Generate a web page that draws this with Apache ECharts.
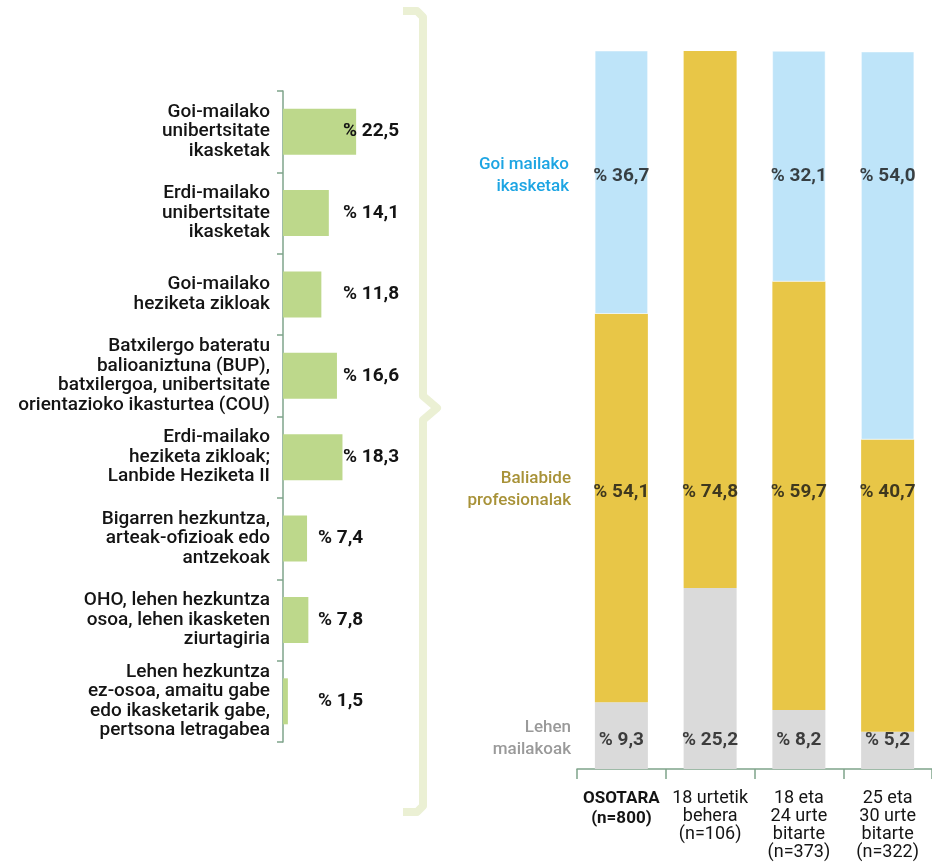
<!DOCTYPE html>
<html>
<head>
<meta charset="utf-8">
<script src="https://cdn.jsdelivr.net/npm/echarts@6/dist/echarts.min.js"></script>
<style>
  html, body { margin: 0; padding: 0; background: #fff; }
  #main { width: 932px; height: 863px; }
</style>
</head>
<body>
<div id="main"></div>
<script>
// ikasketa mailak (ezkerreko grafikoa)
var studyLevels = [
    'Goi-mailako\nunibertsitate\nikasketak',
    'Erdi-mailako\nunibertsitate\nikasketak',
    'Goi-mailako\nheziketa zikloak',
    'Batxilergo bateratu\nbalioaniztuna (BUP),\nbatxilergoa, unibertsitate\norientazioko ikasturtea (COU)',
    'Erdi-mailako\nheziketa zikloak;\nLanbide Heziketa II',
    'Bigarren hezkuntza,\narteak-ofizioak edo\nantzekoak',
    'OHO, lehen hezkuntza\nosoa, lehen ikasketen\nziurtagiria',
    'Lehen hezkuntza\nez-osoa, amaitu gabe\nedo ikasketarik gabe,\npertsona letragabea'
];
var studyValues = [22.5, 14.1, 11.8, 16.6, 18.3, 7.4, 7.8, 1.5];

// adin taldeak (eskuineko grafikoa)
var ageGroups = [
    'OSOTARA\n(n=800)',
    '18 urtetik\nbehera\n(n=106)',
    '18 eta\n24 urte\nbitarte\n(n=373)',
    '25 eta\n30 urte\nbitarte\n(n=322)'
];
var lehenValues = [9.3, 25.2, 8.2, 5.2];
var baliabideValues = [54.1, 74.8, 59.7, 40.7];
var goiValues = [36.7, null, 32.1, 54.0];
var groupNames = ['Lehen\nmailakoak', 'Baliabide\nprofesionalak', 'Goi mailako\nikasketak'];

var FONT = 'Roboto';
var axisGreen = '#7fa48b';

function pct(v) {
    return '% ' + v.toFixed(1).replace('.', ',');
}

// etiketak errenkada finkoetan (balio ardatzaren unitateetan)
function labelRow(values, level) {
    var out = [];
    values.forEach(function (v, i) {
        if (v != null) out.push([i, level, v]);
    });
    return {
        type: 'scatter',
        xAxisIndex: 1,
        yAxisIndex: 1,
        symbolSize: 0,
        silent: true,
        data: out,
        label: {
            show: true,
            position: 'inside',
            formatter: function (p) { return pct(p.value[2]); },
            color: '#141414',
            fontFamily: FONT,
            fontWeight: 'bold',
            fontSize: 19
        },
        z: 5
    };
}

var chart = echarts.init(document.getElementById('main'));

var option = {
    backgroundColor: '#fff',
    animation: false,
    grid: [
        {left: 283, top: 91, width: 130, height: 651},
        {left: 577, right: 0, top: 51, bottom: 94}
    ],
    xAxis: [{
        gridIndex: 0,
        type: 'value',
        min: 0,
        max: 40,
        show: false
    }, {
        gridIndex: 1,
        type: 'category',
        data: ageGroups,
        axisLine: {lineStyle: {color: axisGreen, width: 1.5}},
        axisTick: {show: true, interval: 0, length: 10, lineStyle: {color: axisGreen, width: 1.5}},
        axisLabel: {
            interval: 0,
            margin: 20,
            color: '#141414',
            fontFamily: FONT,
            fontSize: 18,
            lineHeight: 18,
            formatter: function (value, idx) {
                if (idx === 0) {
                    return value.split('\n').map(function (s) { return '{b|' + s + '}'; }).join('\n');
                }
                return value;
            },
            rich: {
                b: {fontWeight: 'bold', fontFamily: FONT, fontSize: 17, lineHeight: 20, color: '#141414'}
            }
        }
    }],
    yAxis: [{
        gridIndex: 0,
        type: 'category',
        inverse: true,
        data: studyLevels,
        axisLine: {lineStyle: {color: axisGreen, width: 1.5}},
        axisTick: {show: true, length: 6, lineStyle: {color: axisGreen, width: 1.5}},
        axisLabel: {
            margin: 13,
            color: '#141414',
            fontFamily: FONT,
            fontWeight: 500,
            fontSize: 19,
            lineHeight: 19.5
        }
    }, {
        gridIndex: 1,
        type: 'value',
        min: 0,
        max: 100,
        show: false
    }],
    series: [{
        type: 'bar',
        xAxisIndex: 0,
        yAxisIndex: 0,
        barWidth: 46,
        itemStyle: {color: '#bdd88b'},
        data: studyValues.map(function (v) {
            return {value: v, label: {position: [v >= 10 ? 60 : 35, '50%']}};
        }),
        label: {
            show: true,
            align: 'left',
            verticalAlign: 'middle',
            formatter: function (p) { return pct(p.value); },
            color: '#141414',
            fontFamily: FONT,
            fontWeight: 'bold',
            fontSize: 19
        }
    }, {
        name: 'Lehen mailakoak',
        type: 'bar',
        xAxisIndex: 1,
        yAxisIndex: 1,
        stack: 'adina',
        barWidth: 53,
        itemStyle: {color: '#dadada'},
        data: lehenValues
    }, {
        name: 'Baliabide profesionalak',
        type: 'bar',
        xAxisIndex: 1,
        yAxisIndex: 1,
        stack: 'adina',
        barWidth: 53,
        itemStyle: {color: '#e8c647'},
        data: baliabideValues
    }, {
        name: 'Goi mailako ikasketak',
        type: 'bar',
        xAxisIndex: 1,
        yAxisIndex: 1,
        stack: 'adina',
        barWidth: 53,
        itemStyle: {color: '#bee4f9', borderColor: '#fff', borderWidth: 0.5},
        data: goiValues
    },
        labelRow(goiValues, 82.5),
        labelRow(baliabideValues, 38.6),
        labelRow(lehenValues, 4)
    ],
    graphic: [{
        // giltza
        type: 'polyline',
        shape: {
            points: [[403, 11], [417, 11], [423, 17], [423, 396], [437, 408], [423, 420], [423, 806], [417, 812], [403, 812]]
        },
        style: {stroke: '#ebf0d4', lineWidth: 8, fill: null, lineJoin: 'round'},
        z: 1
    }, {
        type: 'text',
        x: 569, y: 176,
        style: {text: groupNames[2], fill: '#1da5e3', font: '500 17px Roboto', align: 'right', verticalAlign: 'middle', lineHeight: 22}
    }, {
        type: 'text',
        x: 571, y: 490,
        style: {text: groupNames[1], fill: '#a89238', font: '500 17px Roboto', align: 'right', verticalAlign: 'middle', lineHeight: 22}
    }, {
        type: 'text',
        x: 571, y: 739,
        style: {text: groupNames[0], fill: '#9a9a9a', font: '500 17px Roboto', align: 'right', verticalAlign: 'middle', lineHeight: 22}
    }]
};

chart.setOption(option, true);
</script>
</body>
</html>
